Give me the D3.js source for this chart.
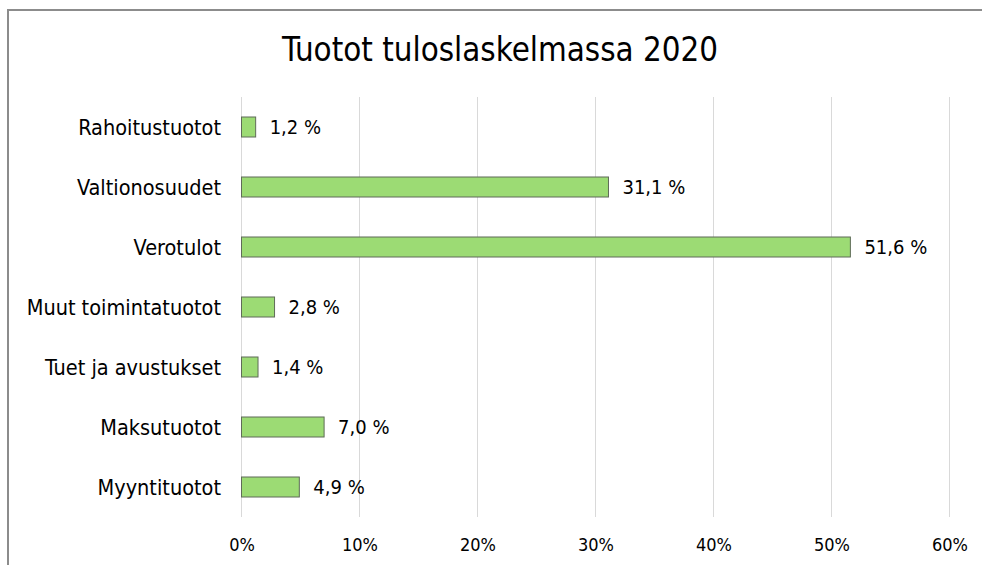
<!DOCTYPE html>
<html>
<head>
<meta charset="utf-8">
<script src="https://cdn.jsdelivr.net/npm/d3@7"></script>
<style>
  html, body { margin: 0; padding: 0; background: #fff; }
  svg { display: block; }
  text { font-family: "DejaVu Sans Condensed", "DejaVu Sans", sans-serif; fill: #000; }
</style>
</head>
<body>
<svg id="chart" width="982" height="565"></svg>
<script>
const title = "Tuotot tuloslaskelmassa 2020";
const categories = ["Rahoitustuotot", "Valtionosuudet", "Verotulot", "Muut toimintatuotot", "Tuet ja avustukset", "Maksutuotot", "Myyntituotot"];
const values = [1.2, 31.1, 51.6, 2.8, 1.4, 7.0, 4.9];
const valueLabels = ["1,2 %", "31,1 %", "51,6 %", "2,8 %", "1,4 %", "7,0 %", "4,9 %"];
const ticks = [0, 10, 20, 30, 40, 50, 60];
const tickLabels = ["0%", "10%", "20%", "30%", "40%", "50%", "60%"];

const FONT = '"DejaVu Sans Condensed", "DejaVu Sans", sans-serif';
const svg = d3.select("#chart");
const plot = { left: 241.5, right: 949.5, top: 97, bottom: 517 };

// chart frame (top and left edges visible)
svg.append("path")
  .attr("d", "M8,566 L8,10 L983,10")
  .attr("fill", "none").attr("stroke", "#8c8c8c").attr("stroke-width", 2);

svg.append("text")
  .attr("x", 500).attr("y", 61)
  .attr("text-anchor", "middle")
  .attr("font-size", 32.8)
  .text(title);

const x = d3.scaleLinear().domain([0, 60]).range([plot.left, plot.right]);
const y = d3.scaleBand().domain(categories).range([plot.top, plot.bottom]).paddingInner(2/3).paddingOuter(1/3);

// gridlines
svg.append("g").selectAll("line").data(ticks).join("line")
  .attr("x1", d => x(d)).attr("x2", d => x(d))
  .attr("y1", plot.top).attr("y2", plot.bottom)
  .attr("stroke", "#d9d9d9").attr("stroke-width", 1);

// x axis tick labels
const xAxis = d3.axisBottom(x).tickValues(ticks).tickSize(0).tickPadding(0)
  .tickFormat((d, i) => tickLabels[i]);
const gx = svg.append("g").attr("transform", `translate(0,${plot.bottom})`).call(xAxis);
gx.select(".domain").remove();
gx.selectAll("text").attr("font-size", 18).attr("dy", null).attr("y", 34)
  .style("font-family", FONT).attr("fill", "#000");

// y axis category labels
const yAxis = d3.axisLeft(y).tickSize(0).tickPadding(0);
const gy = svg.append("g").attr("transform", `translate(221,0)`).call(yAxis);
gy.select(".domain").remove();
gy.selectAll("text").attr("font-size", 21.5).attr("dy", "0.35em")
  .style("font-family", FONT).attr("fill", "#000");

// bars
svg.append("g").selectAll("rect").data(categories).join("rect")
  .attr("x", x(0))
  .attr("y", d => y(d))
  .attr("width", (d, i) => x(values[i]) - x(0))
  .attr("height", y.bandwidth())
  .attr("fill", "#9cdb74")
  .attr("stroke", "#5f6b58").attr("stroke-width", 1);

// value labels
svg.append("g").selectAll("text").data(categories).join("text")
  .attr("x", (d, i) => x(values[i]) + 14)
  .attr("y", d => y(d) + y.bandwidth() / 2)
  .attr("dy", "0.35em")
  .attr("font-size", 20)
  .text((d, i) => valueLabels[i]);
</script>
</body>
</html>
